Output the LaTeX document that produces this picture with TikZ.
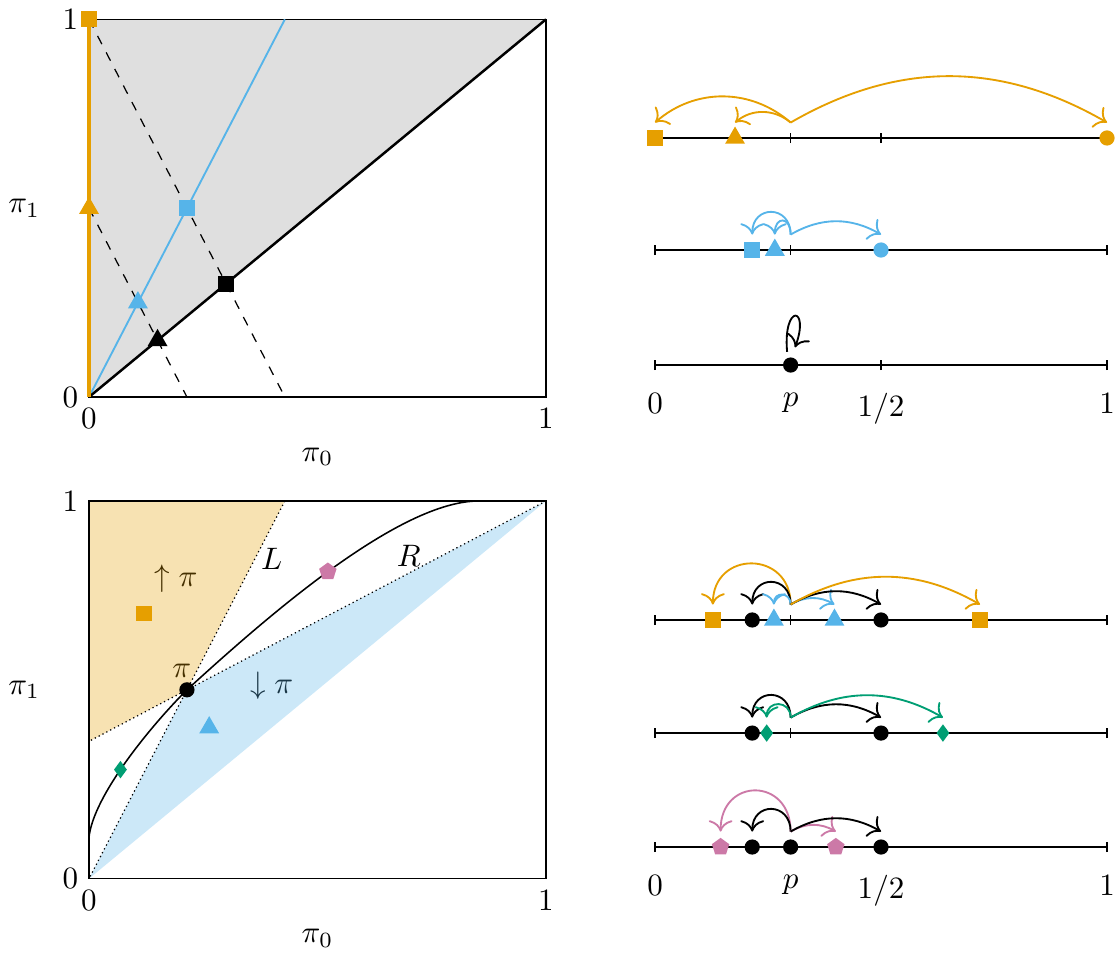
\documentclass[tikz,border=0pt]{standalone}
\usepackage{amsmath,amssymb}
\usepackage{tikz}
\usetikzlibrary{positioning,arrows.meta,shapes.geometric,calc}
\definecolor{OIorange}{HTML}{E69F00}
\definecolor{OIblue}{HTML}{56B4E9}
\definecolor{OIgreen}{HTML}{009E73}
\definecolor{OIpink}{HTML}{CC79A7}

\begin{document}
\begin{tikzpicture}[
  sqr/.style={rectangle,fill=#1,inner sep=0pt,minimum size=5.1pt},
  tri/.style={regular polygon,regular polygon sides=3,fill=#1,inner sep=0pt,minimum size=7.4pt},
  blob/.style={circle,fill=#1,inner sep=0pt,minimum size=4.9pt},
  dmd/.style={diamond,fill=#1,inner sep=0pt,minimum width=4.3pt,minimum height=5.8pt},
  pent/.style={regular polygon,regular polygon sides=5,fill=#1,inner sep=0pt,minimum size=5.9pt},
  plotbox/.style={draw,line width=0.4pt},
  nline/.style={line width=0.4pt},
  arr/.style={-{To[scale=1.25]},semithick},
  dots/.style={line width=0.4pt,dash pattern=on 0.4pt off 1pt}
]
\useasboundingbox (0,0) rectangle (12.667,10.822);

% top left: simplex with projections
\begin{scope}[shift={(1.0075cm,6.328cm)},x=5.173cm,y=4.275cm]
  \coordinate (o) at (0,0);
  \coordinate (tr) at (1,1);
  \coordinate (bt) at (0.4286,1);
  \coordinate (xa) at (0.4286,0);
  \coordinate (xb) at (0.2143,0);
  \fill[gray!25] (0,0) -- (0,1) -- (1,1) -- cycle;
  \draw[plotbox] (0,0) rectangle (1,1);
  \coordinate (osqc) at (0,1);
  \coordinate (otrc) at (0,0.5);
  \draw[dashed,thin] (osqc) -- (xa);
  \draw[dashed,thin] (otrc) -- (xb);
  \draw[OIblue,line width=0.6pt] (o) -- (bt);
  \draw[line width=0.8pt] (o) -- (tr);
  \draw[OIorange,line width=1pt] (o) -- (osqc);
  \node[sqr=OIorange] (osq) at (osqc) {};
  \node[tri=OIorange] (otr) at (otrc) {};
  \node[sqr=OIblue] (bsq) at (0.2143,0.5) {};
  \node[tri=OIblue] (btr) at (0.107,0.25) {};
  \node[sqr=black] (ksq) at (0.3,0.3) {};
  \node[tri=black] (ktr) at (0.15,0.15) {};
  \node[left] (ty0) at (0,0) {0};
  \node[left] (ty1) at (0,1) {1};
  \node[below] (tx0) at (0,0) {0};
  \node[below] (tx1) at (1,0) {1};
  \node[left=0.43cm] (tyl) at (0,0.5) {$\pi_1$};
  \node[below=0.45cm] (txl) at (0.5,0) {$\pi_0$};
\end{scope}

% bottom left: regions around pi
\begin{scope}[shift={(1.0075cm,0.876cm)},x=5.173cm,y=4.275cm]
  \coordinate (pi) at (0.2143,0.5);
  \coordinate (lb) at (0,0.3636);
  \coordinate (o2) at (0,0);
  \coordinate (tr2) at (1,1);
  \coordinate (bt2) at (0.4286,1);
  \coordinate (cs) at (0,0.11);
  \coordinate (ce) at (0.853,1);
  \node (upl) at (0.19,0.795) {$\uparrow\pi$};
  \node (dnl) at (0.40,0.512) {$\downarrow\pi$};
  \node (pil) at (0.203,0.55) {$\pi$};
  \fill[OIorange,opacity=0.3] (0,1) -- (bt2) -- (pi) -- (lb) -- cycle;
  \fill[OIblue,opacity=0.3] (o2) -- (pi) -- (tr2) -- cycle;
  \draw[plotbox] (0,0) rectangle (1,1);
  \draw[dots] (bt2) -- (o2);
  \draw[dots] (tr2) -- (lb);
  \draw[line width=0.5pt] (cs) .. controls (0.01,0.22) and (0.135,0.404) .. (pi)
    .. controls (0.395,0.70) and (0.68,1) .. (ce);
  \node (lL) at (0.40,0.846) {$L$};
  \node (lR) at (0.70,0.854) {$R$};
  \node[sqr=OIorange] (osq2) at (0.12,0.702) {};
  \node[tri=OIblue] (btr2) at (0.263,0.40) {};
  \node[dmd=OIgreen] (gdm) at (0.0688,0.2887) {};
  \node[pent=OIpink] (ppt) at (0.5227,0.8129) {};
  \node[blob=black] (pid) at (pi) {};
  \node[left] (by0) at (0,0) {0};
  \node[left] (by1) at (0,1) {1};
  \node[below] (bx0) at (0,0) {0};
  \node[below] (bx1) at (1,0) {1};
  \node[left=0.43cm] (byl) at (0,0.5) {$\pi_1$};
  \node[below=0.45cm] (bxl) at (0.5,0) {$\pi_0$};
\end{scope}

% right: number lines
\begin{scope}[shift={(7.415cm,0cm)},x=5.116cm]
  \foreach \r in {9.260,7.992,6.690,3.804,2.524,1.234}{
    \draw[nline] (0,\r) -- (1,\r);
    \foreach \t in {0,0.3,0.5,1}
      \draw[nline] (\t,\r-0.057) -- (\t,\r+0.057);
  }
  % row 1
  \coordinate (r1p) at (0.3,9.260);
  \node[sqr=OIorange] (r1a) at (0,9.260) {};
  \node[tri=OIorange] (r1b) at (0.177,9.260) {};
  \node[blob=OIorange] (r1c) at (1,9.260) {};
  \draw[arr,OIorange] ([yshift=0.175cm]r1p) to[bend right=41] ([yshift=0.175cm]r1a.center);
  \draw[arr,OIorange] ([yshift=0.175cm]r1p) to[bend right=40] ([yshift=0.175cm]r1b.center);
  \draw[arr,OIorange] ([yshift=0.175cm]r1p) to[bend left=30] ([yshift=0.175cm]r1c.center);
  % row 2
  \coordinate (r2p) at (0.3,7.992);
  \node[sqr=OIblue] (r2a) at (0.215,7.992) {};
  \node[tri=OIblue] (r2b) at (0.265,7.992) {};
  \node[blob=OIblue] (r2c) at (0.5,7.992) {};
  \draw[arr,OIblue] ([yshift=0.175cm]r2p) to[out=90,in=90,looseness=2] ([yshift=0.175cm]r2a.center);
  \draw[arr,OIblue] ([yshift=0.175cm]r2p) to[out=90,in=90,looseness=3] ([yshift=0.175cm]r2b.center);
  \draw[arr,OIblue] ([yshift=0.175cm]r2p) to[bend left=30] ([yshift=0.175cm]r2c.center);
  % row 3
  \node[blob=black] (r3d) at (0.3,6.690) {};
  \draw[arr] ([shift={(-0.04cm,0.15cm)}]r3d.center) .. controls +(95:0.55cm) and +(70:0.5cm) .. ([shift={(0.05cm,0.2cm)}]r3d.center);
  \node[anchor=north] (a0) at (0,6.50) {0};
  \node[anchor=north] (ap) at (0.3,6.50) {$p$};
  \node[anchor=north] (ah) at (0.5,6.50) {$1/2$};
  \node[anchor=north] (a1) at (1,6.50) {1};
  % row 4
  \coordinate (r4p) at (0.3,3.804);
  \node[sqr=OIorange] (r4a) at (0.128,3.804) {};
  \node[blob=black] (r4b) at (0.215,3.804) {};
  \node[tri=OIblue] (r4c) at (0.263,3.804) {};
  \node[tri=OIblue] (r4d) at (0.397,3.804) {};
  \node[blob=black] (r4e) at (0.5,3.804) {};
  \node[sqr=OIorange] (r4f) at (0.719,3.804) {};
  \draw[arr,OIorange] ([yshift=0.175cm]r4p) to[out=90,in=90,looseness=1.8] ([yshift=0.175cm]r4a.center);
  \draw[arr] ([yshift=0.175cm]r4p) to[out=90,in=90,looseness=2] ([yshift=0.175cm]r4b.center);
  \draw[arr,OIblue] ([yshift=0.175cm]r4p) to[out=90,in=90,looseness=2] ([yshift=0.175cm]r4c.center);
  \draw[arr,OIblue] ([yshift=0.175cm]r4p) to[bend left=30] ([yshift=0.175cm]r4d.center);
  \draw[arr] ([yshift=0.175cm]r4p) to[bend left=30] ([yshift=0.175cm]r4e.center);
  \draw[arr,OIorange] ([yshift=0.175cm]r4p) to[bend left=30] ([yshift=0.175cm]r4f.center);
  % row 5
  \coordinate (r5p) at (0.3,2.524);
  \node[blob=black] (r5a) at (0.215,2.524) {};
  \node[dmd=OIgreen] (r5b) at (0.247,2.524) {};
  \node[blob=black] (r5c) at (0.5,2.524) {};
  \node[dmd=OIgreen] (r5d) at (0.637,2.524) {};
  \draw[arr] ([yshift=0.175cm]r5p) to[out=90,in=90,looseness=2] ([yshift=0.175cm]r5a.center);
  \draw[arr,OIgreen] ([yshift=0.175cm]r5p) to[out=90,in=90,looseness=1.9] ([yshift=0.175cm]r5b.center);
  \draw[arr] ([yshift=0.175cm]r5p) to[bend left=30] ([yshift=0.175cm]r5c.center);
  \draw[arr,OIgreen] ([yshift=0.175cm]r5p) to[bend left=30] ([yshift=0.175cm]r5d.center);
  % row 6
  \node[pent=OIpink] (r6a) at (0.145,1.234) {};
  \node[blob=black] (r6b) at (0.215,1.234) {};
  \node[blob=black] (r6p) at (0.3,1.234) {};
  \node[pent=OIpink] (r6c) at (0.40,1.234) {};
  \node[blob=black] (r6d) at (0.5,1.234) {};
  \draw[arr,OIpink] ([yshift=0.175cm]r6p.center) to[out=90,in=90,looseness=2] ([yshift=0.175cm]r6a.center);
  \draw[arr] ([yshift=0.175cm]r6p.center) to[out=90,in=90,looseness=2] ([yshift=0.175cm]r6b.center);
  \draw[arr,OIpink] ([yshift=0.175cm]r6p.center) to[bend left=30] ([yshift=0.175cm]r6c.center);
  \draw[arr] ([yshift=0.175cm]r6p.center) to[bend left=30] ([yshift=0.175cm]r6d.center);
  \node[anchor=north] (b0) at (0,1.044) {0};
  \node[anchor=north] (bp) at (0.3,1.044) {$p$};
  \node[anchor=north] (bh) at (0.5,1.044) {$1/2$};
  \node[anchor=north] (b1) at (1,1.044) {1};
\end{scope}
\end{tikzpicture}
\end{document}
